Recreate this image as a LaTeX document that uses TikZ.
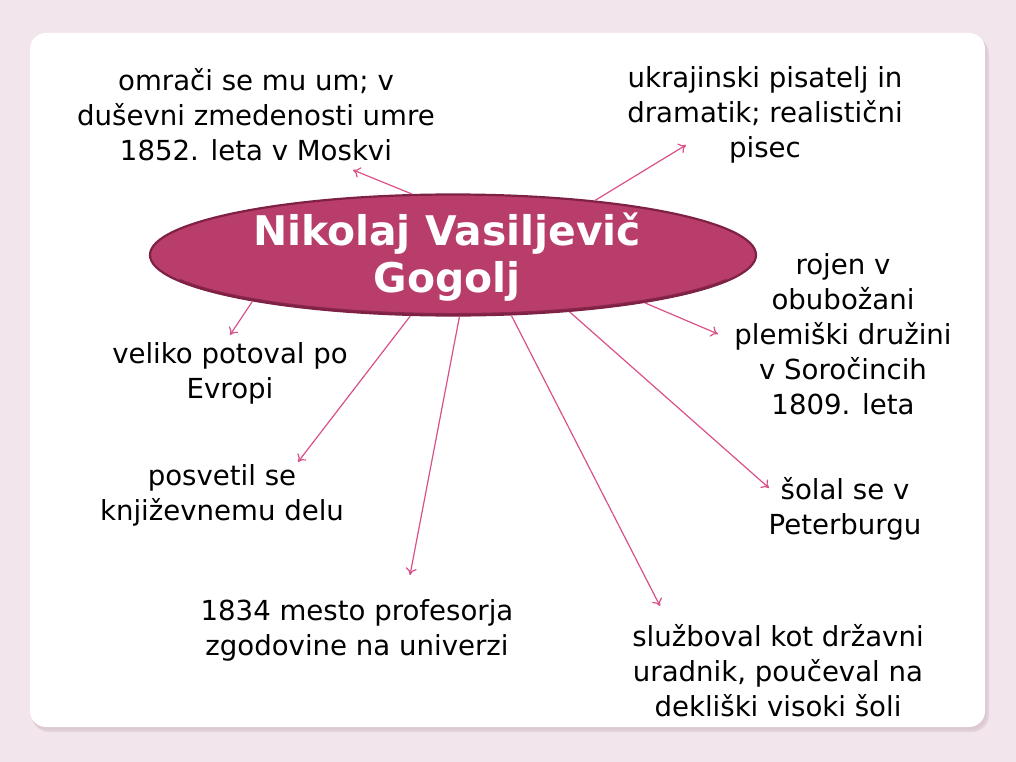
\documentclass[tikz,border=0pt]{standalone}
\usepackage{fontspec}
\setmainfont{DejaVu Sans}
\usetikzlibrary{shapes.geometric,arrows.meta}
\definecolor{bgpink}{HTML}{F2E5EC}
\definecolor{shadowc}{HTML}{D8C3CE}
\definecolor{ellfill}{HTML}{B83D6A}
\definecolor{elldraw}{HTML}{7E2145}
\definecolor{arrowc}{HTML}{D9508A}
\tikzset{
  lbl/.style={align=center, inner sep=0pt, font=\fontsize{27.7}{35}\selectfont, text=black},
  conn/.style={draw=arrowc, line width=1.2bp, -{To[length=7bp,width=11bp]}},
}
\begin{document}
\begin{tikzpicture}[x=1bp,y=-1bp]
\useasboundingbox (0,0) rectangle (1016,762);
\fill[bgpink] (0,0) rectangle (1016,762);
% panel shadow
\fill[shadowc, opacity=0.5, rounded corners=17bp] (32,37) rectangle (989,732);
\fill[shadowc, opacity=0.6, rounded corners=16bp] (31,36) rectangle (987,730);
\fill[white, rounded corners=16bp] (30,33) rectangle (985,727);
% central ellipse
\node[ellipse, minimum width=606bp, minimum height=121bp, inner sep=0pt,
      fill=ellfill, draw=elldraw, line width=2.2bp] (g) at (453,255) {};
\draw[elldraw, line width=3bp, opacity=0.8] (g.center) ++(25:302 and 59.5)
  arc[start angle=25, end angle=155, x radius=302, y radius=59.5];
\node[inner sep=0pt, text=white, font=\fontsize{41}{48}\selectfont\bfseries] (gt) at (447,259.5)
  {\begin{tabular}{@{}c@{}}Nikolaj Vasiljevič\\Gogolj\end{tabular}};
% labels
\node[lbl] (t1) at (256,115) {omrači se mu um; v\\duševni zmedenosti umre\\1852. leta v Moskvi};
\node[lbl] (t2) at (765,115) {ukrajinski pisatelj in\\dramatik; realistični\\pisec};
\node[lbl] (t3) at (843,334) {rojen v\\obubožani\\plemiški družini\\v Soročincih\\1809. leta};
\node[lbl] (t4) at (230,373) {veliko potoval po\\Evropi};
\node[lbl] (t5) at (222,495) {posvetil se\\književnemu delu};
\node[lbl] (t6) at (845,509) {šolal se v\\Peterburgu};
\node[lbl] (t7) at (357,630) {1834 mesto profesorja\\zgodovine na univerzi};
\node[lbl] (t8) at (778,671) {služboval kot državni\\uradnik, poučeval na\\dekliški visoki šoli};
% arrow ends
\coordinate (e1) at (353,170);
\coordinate (e2) at (686,145);
\coordinate (e3) at (230,335);
\coordinate (e4) at (718,334);
\coordinate (e5) at (298,462);
\coordinate (e6) at (410,575);
\coordinate (e7) at (660,606);
\coordinate (e8) at (769,488);
\draw[conn] (g.124) -- (e1);
\draw[conn] (g.21.6) -- (e2);
\draw[conn] (g.193.2) -- (e3);
\draw[conn] (g.346.6) -- (e4);
\draw[conn] (g.235.7) -- (e5);
\draw[conn] (g.276.3) -- (e6);
\draw[conn] (g.314.5) -- (e7);
\draw[conn] (g.334.9) -- (e8);
\end{tikzpicture}
\end{document}
